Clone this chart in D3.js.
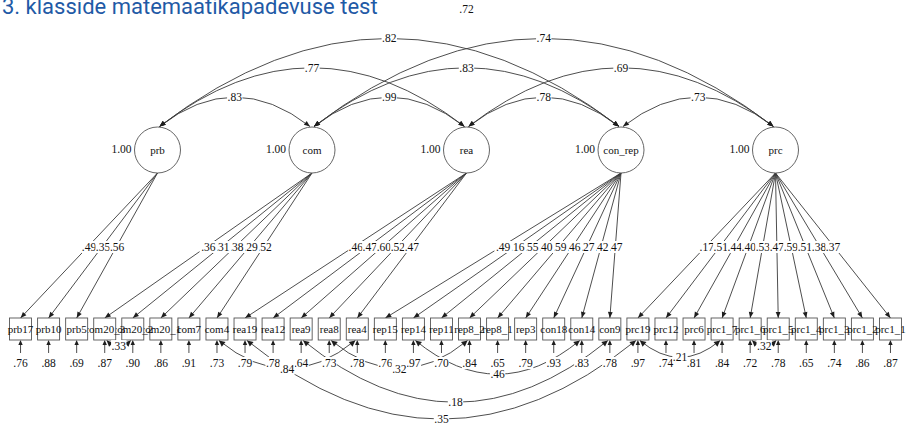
<!DOCTYPE html>
<html>
<head>
<meta charset="utf-8">
<script src="https://cdn.jsdelivr.net/npm/d3@7"></script>
<style>
  html, body { margin: 0; padding: 0; background: #fff; }
  svg { display: block; }
</style>
</head>
<body>
<svg id="chart" width="909" height="427"></svg>
<script>
// ---- Model: five correlated factors measured by 32 indicators ----
const latents = ["prb", "com", "rea", "con_rep", "prc"];
const latentVariances = [1.00, 1.00, 1.00, 1.00, 1.00];

const indicators = [
  "prb17", "prb10", "prb5",
  "com20_3", "com20_2", "com20_1", "com7", "com4",
  "rea19", "rea12", "rea9", "rea8", "rea4",
  "rep15", "rep14", "rep11", "rep8_2", "rep8_1", "rep3", "con18", "con14", "con9",
  "prc19", "prc12", "prc6", "prc1_7", "prc1_6", "prc1_5", "prc1_4", "prc1_3", "prc1_2", "prc1_1"
];
const indicatorFactor = [
  "prb", "prb", "prb",
  "com", "com", "com", "com", "com",
  "rea", "rea", "rea", "rea", "rea",
  "con_rep", "con_rep", "con_rep", "con_rep", "con_rep", "con_rep", "con_rep", "con_rep", "con_rep",
  "prc", "prc", "prc", "prc", "prc", "prc", "prc", "prc", "prc", "prc"
];
const loadings = [
  .49, .35, .56,
  .36, .31, .38, .29, .52,
  .46, .47, .60, .52, .47,
  .49, .16, .55, .40, .59, .46, .27, .42, .47,
  .17, .51, .44, .40, .53, .47, .59, .51, .38, .37
];
const residualVariances = [
  .76, .88, .69,
  .87, .90, .86, .91, .73,
  .79, .78, .64, .73, .78,
  .76, .97, .70, .84, .65, .79, .93, .83, .78,
  .97, .74, .81, .84, .72, .78, .65, .74, .86, .87
];

// factor correlations
const factorCorrFrom  = ["prb", "com", "rea", "con_rep", "prb", "com", "rea", "prb", "com", "prb"];
const factorCorrTo    = ["com", "rea", "con_rep", "prc", "rea", "con_rep", "prc", "con_rep", "prc", "prc"];
const factorCorrValue = [.83, .99, .78, .73, .77, .83, .69, .82, .74, .72];
const factorCorrLine  = [true, true, true, true, true, true, true, true, true, false];

// correlated residuals
const residCorrFrom  = ["com20_3", "prc1_6", "prc19", "com4", "rea8", "rep14", "rea9", "rea19"];
const residCorrTo    = ["com20_2", "prc1_5", "prc1_7", "rea4", "rep8_2", "con14", "con9", "prc19"];
const residCorrValue = [.33, .32, .21, .84, .32, .46, .18, .35];

// ---- Layout ----
const W = 909, H = 427;
const latY = 150, R = 23;
const boxTop = 318, boxW = 22, boxH = 22;
const boxBottom = boxTop + boxH;
const residTail = 353;
const residLabelY = 363;
const topBend = 0.19, bottomBend = 0.2;
const lineColor = "#3a3a3a";
const serif = "'Liberation Serif', 'Times New Roman', serif";
// labels of these factors' loadings are stacked right-to-left
const rtlLabelFactors = ["com", "con_rep"];

const svg = d3.select("#chart");
svg.append("rect").attr("width", W).attr("height", H).attr("fill", "#fff");

const xLat = d3.scalePoint().domain(latents).range([157.5, 775.5]);
const xInd = d3.scaleBand().domain(indicators).range([6.5, 904.5]);
const cx = name => xInd(name) + xInd.bandwidth() / 2;

const fmt = v => d3.format(".2f")(v).replace(/^0\./, ".");

const edges = svg.append("g").attr("fill", "none").attr("stroke", lineColor).attr("stroke-width", 0.9);
const heads = svg.append("g").attr("fill", "#1e1e1e");
const nodes = svg.append("g");
const labels = svg.append("g");

function arrowHead(tipX, tipY, fromX, fromY, len = 6, half = 2.4) {
  const dx = tipX - fromX, dy = tipY - fromY;
  const L = Math.hypot(dx, dy) || 1;
  const ux = dx / L, uy = dy / L;
  const bx = tipX - ux * len, by = tipY - uy * len;
  const px = -uy * half, py = ux * half;
  heads.append("path").attr("d",
    `M${tipX},${tipY}L${bx + px},${by + py}L${bx - px},${by - py}Z`);
}

function edgeLabel(x, y, text, parent = labels, pad = 0.5) {
  const g = parent.append("g");
  const r = g.append("rect").attr("fill", "#fff");
  const t = g.append("text")
    .attr("x", x).attr("y", y).attr("dy", "0.35em")
    .attr("text-anchor", "middle")
    .attr("font-family", serif).attr("font-size", 11.5)
    .attr("fill", "#111")
    .text(text);
  const w = t.node().getComputedTextLength();
  r.attr("x", x - w / 2 - pad).attr("y", y - 6).attr("width", w + 2 * pad).attr("height", 12);
}

// ---- factor correlations (arcs above the factors) ----
factorCorrFrom.forEach((a, i) => {
  const b = factorCorrTo[i];
  const xa = xLat(a), xb = xLat(b);
  const d = Math.abs(xb - xa);
  const y0 = latY - R - 0.5;
  const x1 = xa + 2, x2 = xb - 2;
  const h = topBend * d;
  const ctrlX = (x1 + x2) / 2, ctrlY = y0 - 2 * h;
  if (factorCorrLine[i]) {
    edges.append("path").attr("d", `M${x1},${y0}Q${ctrlX},${ctrlY} ${x2},${y0}`);
    arrowHead(x1, y0, ctrlX, ctrlY);
    arrowHead(x2, y0, ctrlX, ctrlY);
  }
  edgeLabel(ctrlX, y0 - h, fmt(factorCorrValue[i]));
});

// ---- loadings ----
const loadingLabels = labels.append("g");
const loadRows = indicators.map((name, i) => ({ name, i, f: indicatorFactor[i] }));
loadRows.forEach(({ name, i, f }) => {
  const x0 = xLat(f), y0 = latY + R;
  const x1 = cx(name), y1 = boxTop;
  edges.append("line").attr("x1", x0).attr("y1", y0).attr("x2", x1).attr("y2", y1);
  arrowHead(x1, y1, x0, y0);
});
// labels: left-to-right for most factors, right-to-left for the others
latents.forEach(f => {
  let rows = loadRows.filter(r => r.f === f);
  const rtl = rtlLabelFactors.includes(f);
  if (rtl) rows = rows.slice().reverse();
  rows.forEach(({ name, i }) => {
    const x0 = xLat(f), y0 = latY + R;
    const x1 = cx(name), y1 = boxTop;
    edgeLabel((x0 + x1) / 2, (y0 + y1) / 2 + 1.5, fmt(loadings[i]), loadingLabels, rtl ? 1.6 : 0.4);
  });
});

// ---- residual variances ----
indicators.forEach((name, i) => {
  const x = cx(name);
  edges.append("line").attr("x1", x).attr("y1", residTail).attr("x2", x).attr("y2", boxBottom + 2);
  arrowHead(x, boxBottom, x, residTail, 5, 2.2);
  edgeLabel(x, residLabelY, fmt(residualVariances[i]));
});

// ---- correlated residuals (arcs below the indicators) ----
residCorrFrom.forEach((a, i) => {
  const b = residCorrTo[i];
  const xa = cx(a), xb = cx(b);
  const dir = Math.sign(xb - xa);
  const x1 = xa + 2 * dir, x2 = xb - 2 * dir;
  const d = Math.abs(xb - xa);
  const h = bottomBend * d;
  const y0 = boxBottom + 0.5;
  const ctrlX = (x1 + x2) / 2, ctrlY = y0 + 2 * h;
  edges.append("path").attr("d", `M${x1},${y0}Q${ctrlX},${ctrlY} ${x2},${y0}`);
  arrowHead(x1, y0, ctrlX, ctrlY, 6, 3);
  arrowHead(x2, y0, ctrlX, ctrlY, 6, 3);
  edgeLabel(ctrlX, y0 + h, fmt(residCorrValue[i]));
});

// ---- factor nodes ----
latents.forEach((f, i) => {
  const x = xLat(f);
  const g = nodes.append("g");
  g.append("circle").attr("cx", x).attr("cy", latY).attr("r", R)
    .attr("fill", "#fff").attr("stroke", "#555").attr("stroke-width", 0.9);
  g.append("text").attr("x", x).attr("y", latY + 3.5)
    .attr("text-anchor", "middle").attr("font-family", serif).attr("font-size", 11)
    .attr("fill", "#111").text(f);
  g.append("text").attr("x", x - R - 3).attr("y", latY - 1).attr("dy", "0.35em")
    .attr("text-anchor", "end").attr("font-family", serif).attr("font-size", 11.5)
    .attr("fill", "#111").text(d3.format(".2f")(latentVariances[i]));
});

// ---- indicator nodes, stacked right-to-left ----
indicators.slice().reverse().forEach(name => {
  const x = cx(name);
  const g = nodes.append("g");
  g.append("rect").attr("x", x - boxW / 2).attr("y", boxTop).attr("width", boxW).attr("height", boxH)
    .attr("fill", "#fff").attr("stroke", "#555").attr("stroke-width", 0.9);
  g.append("text").attr("x", x).attr("y", boxTop + boxH / 2 + 3.8)
    .attr("text-anchor", "middle").attr("font-family", serif).attr("font-size", 11)
    .attr("fill", "#111").text(name);
});

// ---- title ----
svg.append("text")
  .attr("x", 2).attr("y", 13.5)
  .attr("font-family", "Roboto, 'Noto Sans', sans-serif")
  .attr("font-size", 22)
  .attr("fill", "#1f5aa6")
  .text("3. klasside matemaatikapadevuse test");
</script>
</body>
</html>
